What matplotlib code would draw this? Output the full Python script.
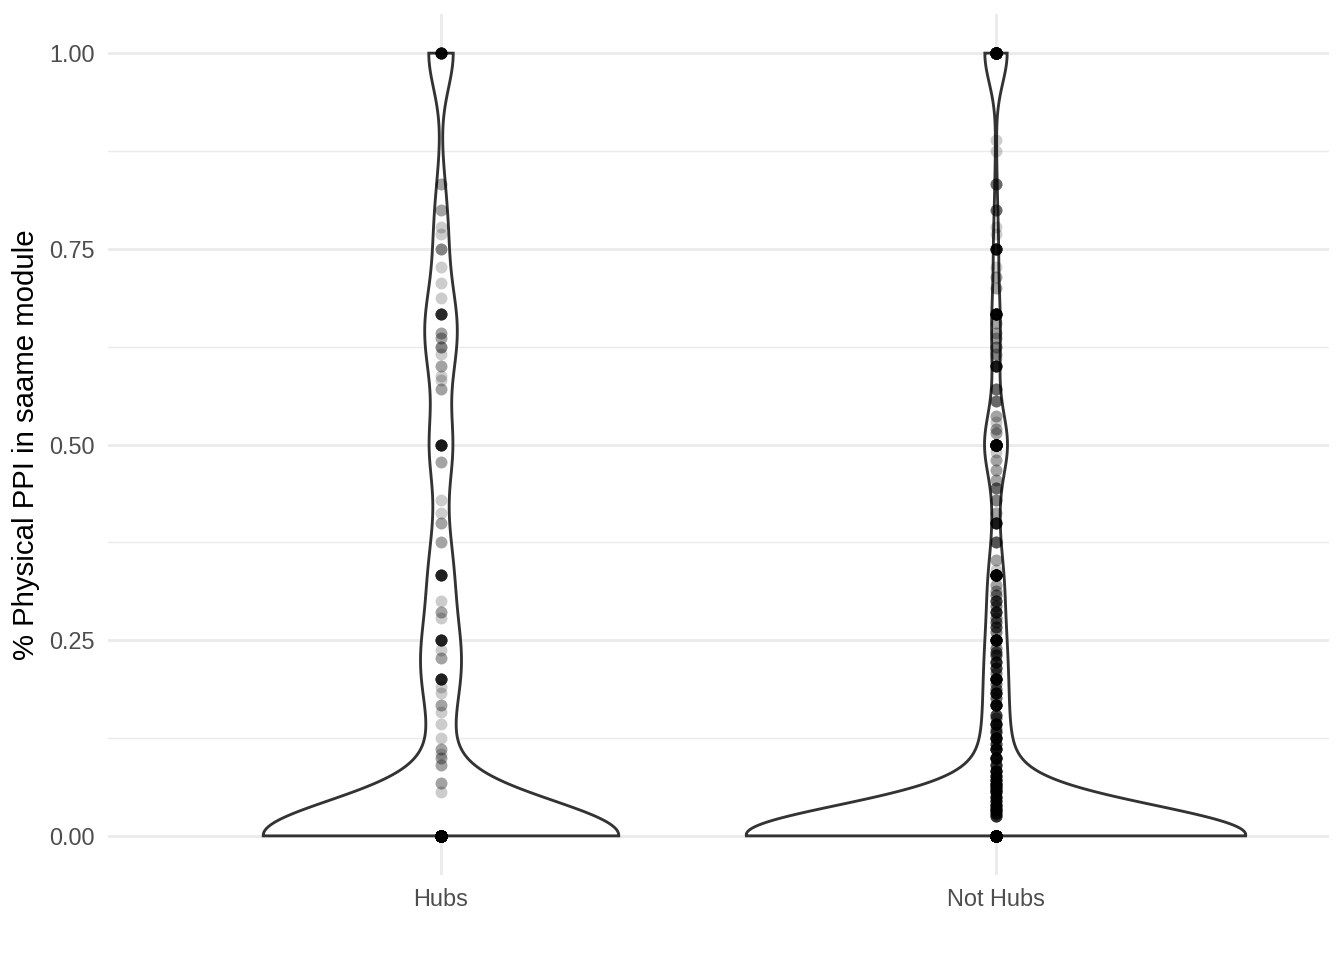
import numpy as np
import matplotlib
matplotlib.use("Agg")
import matplotlib.pyplot as plt
from matplotlib.patches import Polygon

plt.rcParams['font.family'] = ['Liberation Sans', 'DejaVu Sans']

groups = ["Hubs", "Not Hubs"]

# Hubs: distinct values and how many proteins sit on each
hubs_values = [0.0, 0.056, 0.067, 0.091, 0.1, 0.105, 0.111, 0.125, 0.143, 0.158,
               0.167, 0.182, 0.19, 0.2, 0.227, 0.238, 0.25, 0.278, 0.286, 0.3,
               0.333, 0.375, 0.4, 0.412, 0.429, 0.478, 0.5, 0.571, 0.583, 0.588,
               0.6, 0.615, 0.625, 0.636, 0.643, 0.667, 0.687, 0.706, 0.727, 0.75,
               0.769, 0.778, 0.8, 0.833, 1.0]
hubs_counts = [202, 1, 2, 2, 2, 1, 2, 1, 1, 1,
               2, 1, 1, 9, 2, 1, 9, 1, 2, 1,
               9, 2, 2, 1, 1, 2, 10, 2, 1, 1,
               2, 1, 3, 2, 2, 8, 1, 1, 1, 3,
               1, 1, 2, 2, 14]

# Not Hubs
nothubs_values = [0.0, 0.025, 0.0286, 0.033, 0.0357, 0.04, 0.045, 0.05, 0.056, 0.059,
                  0.0625, 0.0667, 0.071, 0.077, 0.083, 0.091, 0.1, 0.111, 0.118, 0.125,
                  0.133, 0.136, 0.143, 0.15, 0.154, 0.167, 0.176, 0.182, 0.1875, 0.194,
                  0.2, 0.208, 0.214, 0.222, 0.231, 0.235, 0.24, 0.25, 0.261, 0.267,
                  0.273, 0.278, 0.286, 0.294, 0.3, 0.308, 0.3125, 0.32, 0.333, 0.34,
                  0.353, 0.375, 0.4, 0.412, 0.429, 0.444, 0.455, 0.467, 0.48, 0.49,
                  0.5, 0.515, 0.52, 0.529, 0.536, 0.556, 0.571, 0.6, 0.61, 0.615,
                  0.625, 0.636, 0.643, 0.655, 0.667, 0.7, 0.714, 0.727, 0.75, 0.769,
                  0.778, 0.8, 0.833, 0.875, 0.889, 1.0]
nothubs_counts = [1850, 8, 8, 10, 6, 10, 8, 10, 8, 8,
                  10, 12, 10, 10, 12, 8, 14, 12, 6, 13,
                  6, 3, 12, 3, 6, 15, 4, 10, 4, 3,
                  18, 3, 6, 8, 5, 4, 3, 21, 3, 5,
                  4, 3, 8, 3, 6, 3, 2, 2, 31, 1,
                  2, 5, 10, 2, 3, 4, 2, 2, 2, 1,
                  72, 2, 2, 1, 2, 4, 4, 10, 1, 2,
                  3, 2, 2, 2, 18, 2, 2, 1, 12, 1,
                  1, 4, 4, 1, 1, 85]

# kernel bandwidth per violin
bandwidths = [0.045, 0.038]

yticks = [0, 0.25, 0.5, 0.75, 1.0]
ytick_labels = ["0.00", "0.25", "0.50", "0.75", "1.00"]


def kde(values, counts, grid, bw):
    v = np.asarray(values, dtype=float)
    c = np.asarray(counts, dtype=float)
    z = (grid[:, None] - v[None, :]) / bw
    d = (c[None, :] * np.exp(-0.5 * z ** 2)).sum(axis=1)
    return d / (c.sum() * bw * np.sqrt(2 * np.pi))


fig = plt.figure(figsize=(7, 5), dpi=192)
ax = fig.add_axes([108 / 1344, 85 / 960, 1221 / 1344, 861 / 960])

data = [(hubs_values, hubs_counts), (nothubs_values, nothubs_counts)]

# densities over the trimmed range, scale="area"
dens = []
for (vals, cnts), bw in zip(data, bandwidths):
    grid = np.linspace(min(vals), max(vals), 512)
    dens.append((grid, kde(vals, cnts, grid, bw)))
dmax = max(d.max() for _, d in dens)

for i, (grid, d) in enumerate(dens):
    pos = i + 1
    w = d / dmax * 0.45
    xs = np.concatenate([pos - w, (pos + w)[::-1]])
    ys = np.concatenate([grid, grid[::-1]])
    ax.add_patch(Polygon(np.column_stack([xs, ys]), closed=True,
                         facecolor='white', edgecolor='#333333',
                         linewidth=1.07, zorder=2))

# points
for i, (vals, cnts) in enumerate(data):
    y = np.repeat(vals, cnts)
    ax.scatter(np.full(len(y), i + 1), y, s=20, color='black', alpha=0.2,
               linewidths=0, zorder=3)

ax.set_xlim(0.4, 2.6)
ax.set_ylim(-0.05, 1.05)
ax.set_xticks([1, 2])
ax.set_xticklabels(groups)
ax.set_yticks(yticks)
ax.set_yticklabels(ytick_labels)
ax.set_yticks([0.125, 0.375, 0.625, 0.875], minor=True)
ax.tick_params(which='both', length=0, pad=4.95, labelsize=8.8, labelcolor='#4D4D4D')

ax.grid(which='major', color='#EBEBEB', linewidth=1.07, zorder=0)
ax.grid(which='minor', axis='y', color='#EBEBEB', linewidth=0.53, zorder=0)
ax.set_axisbelow(True)
for s in ax.spines.values():
    s.set_visible(False)

ax.set_ylabel("% Physical PPI in saame module", fontsize=11, color='black', labelpad=3.5)

fig.savefig("out.png", dpi=192)
